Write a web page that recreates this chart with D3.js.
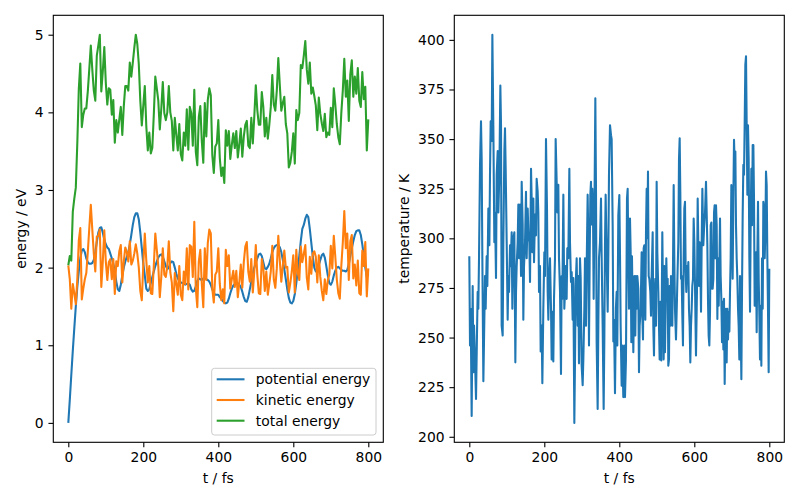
<!DOCTYPE html>
<html><head><meta charset="utf-8">
<script src="https://cdn.jsdelivr.net/npm/d3@7/dist/d3.min.js"></script>
<style>body{margin:0;background:#fff} svg{display:block} text{font-family:"DejaVu Sans",sans-serif}</style>
</head><body><svg id="c" width="800" height="500"></svg>
<script>
// ---- data ----
const timeFs = d3.range(0, 801, 4);
const potential = [
0.00,0.30,0.62,0.93,1.22,1.50,1.75,1.95,2.12,2.22,
2.24,2.20,2.12,2.07,2.05,2.05,2.06,2.10,2.20,2.33,
2.45,2.51,2.52,2.45,2.36,2.30,2.26,2.24,2.18,2.12,
2.05,1.95,1.82,1.72,1.70,1.78,1.90,2.00,2.08,2.14,
2.20,2.30,2.42,2.55,2.65,2.70,2.70,2.62,2.45,2.25,
2.05,1.90,1.73,1.70,1.72,1.80,1.88,1.95,2.02,2.08,
2.13,2.16,2.17,2.14,2.08,2.02,1.98,2.00,2.06,2.08,
2.07,2.00,1.92,1.86,1.83,1.81,1.80,1.79,1.78,1.79,
1.80,1.78,1.72,1.69,1.70,1.76,1.83,1.86,1.85,1.84,
1.86,1.87,1.85,1.84,1.82,1.78,1.72,1.67,1.65,1.65,
1.65,1.62,1.60,1.57,1.55,1.54,1.55,1.60,1.67,1.73,
1.77,1.79,1.80,1.80,1.78,1.75,1.69,1.62,1.57,1.56,
1.62,1.72,1.82,1.92,2.00,2.06,2.12,2.17,2.18,2.15,
2.07,1.99,1.98,2.01,2.05,2.12,2.20,2.25,2.28,2.29,
2.29,2.26,2.20,2.10,1.98,1.85,1.72,1.61,1.55,1.54,
1.57,1.66,1.80,1.97,2.15,2.34,2.50,2.55,2.63,2.68,
2.65,2.50,2.32,2.14,2.00,1.95,1.96,2.03,2.10,2.16,
2.18,2.13,2.02,1.90,1.80,1.78,1.82,1.90,1.96,2.00,
2.01,1.99,1.97,1.96,1.96,1.95,1.97,2.05,2.15,2.25,
2.34,2.42,2.47,2.48,2.48,2.42,2.30,2.15,2.00,1.88,
1.92];
const kinetic = [
2.03,1.85,1.47,1.79,1.67,1.53,1.85,2.35,2.51,1.59,
1.73,1.85,1.93,2.20,2.51,2.81,2.49,2.18,1.95,2.40,
2.41,2.49,1.75,2.08,2.48,2.08,1.84,2.07,2.11,1.85,
2.11,1.66,2.08,2.02,2.21,2.29,1.81,2.08,2.26,2.20,
2.08,2.34,2.04,2.09,2.18,2.30,2.18,2.00,1.70,1.58,
2.04,2.44,2.09,1.81,2.02,1.67,1.66,2.02,2.44,2.23,
2.02,1.62,1.88,2.25,1.91,1.88,2.02,2.34,1.94,1.81,
1.44,1.93,1.79,1.65,2.02,1.65,1.58,1.95,1.79,2.25,
1.72,2.29,2.27,1.88,2.59,1.73,1.49,2.08,2.23,1.79,
1.49,2.25,1.84,2.32,2.49,2.44,1.73,1.55,1.91,1.95,
2.25,1.79,1.58,1.72,1.54,2.23,2.02,2.16,1.73,1.85,
1.96,1.75,1.96,1.62,1.81,2.04,1.74,2.07,2.27,2.33,
1.95,1.82,2.11,1.68,1.95,2.29,1.91,1.67,1.66,2.11,
2.00,1.70,1.95,1.65,1.79,1.95,2.28,1.85,1.74,1.99,
2.41,2.09,1.82,2.02,2.22,2.00,2.01,1.68,1.80,1.95,
2.16,1.68,2.23,1.93,1.84,2.27,2.07,2.18,2.29,1.87,
1.72,2.14,1.92,2.18,2.21,2.14,1.81,2.16,1.88,1.70,
1.58,1.85,1.66,1.84,1.91,2.28,1.99,2.41,2.14,1.85,
1.67,1.60,2.02,2.32,2.73,2.25,2.44,1.84,2.34,2.42,
1.86,2.04,1.77,2.09,1.67,1.65,2.22,2.02,2.33,1.63,
1.99];
const total = [
2.03,2.15,2.09,2.72,2.89,3.03,3.60,4.30,4.63,3.81,
3.97,4.05,4.05,4.27,4.56,4.86,4.55,4.28,4.15,4.73,
4.86,5.00,4.27,4.53,4.84,4.38,4.10,4.31,4.29,3.97,
4.16,3.61,3.90,3.74,3.91,4.07,3.71,4.08,4.34,4.34,
4.28,4.64,4.46,4.64,4.83,5.00,4.88,4.62,4.15,3.83,
4.09,4.34,3.82,3.51,3.74,3.47,3.54,3.97,4.46,4.31,
4.15,3.78,4.05,4.39,3.99,3.90,4.00,4.34,4.00,3.89,
3.51,3.93,3.71,3.51,3.85,3.46,3.38,3.74,3.57,4.04,
3.52,4.07,3.99,3.57,4.29,3.49,3.32,3.94,4.08,3.63,
3.35,4.12,3.69,4.16,4.31,4.22,3.45,3.22,3.56,3.60,
3.90,3.41,3.18,3.29,3.09,3.77,3.57,3.76,3.40,3.58,
3.73,3.54,3.76,3.42,3.59,3.79,3.43,3.69,3.84,3.89,
3.57,3.54,3.93,3.60,3.95,4.35,4.03,3.84,3.84,4.26,
4.07,3.69,3.93,3.66,3.84,4.07,4.48,4.10,4.02,4.28,
4.70,4.35,4.02,4.12,4.20,3.85,3.73,3.29,3.35,3.49,
3.73,3.34,4.03,3.90,3.99,4.61,4.57,4.73,4.92,4.55,
4.37,4.64,4.24,4.32,4.21,4.09,3.77,4.19,3.98,3.86,
3.76,3.98,3.68,3.74,3.71,4.06,3.81,4.31,4.10,3.85,
3.68,3.59,3.99,4.28,4.69,4.20,4.41,3.89,4.49,4.67,
4.20,4.46,4.24,4.57,4.15,4.07,4.52,4.17,4.33,3.51,
3.91];
const tempTime = [0,1.9,3.7,6.3,9,10.8,12.6,15.2,17.9,20.6,22.3,24.1,25.9,28.6,31.2,33,34.8,37.5,39.2,41.9,43.7,46.3,48.1,50.8,53.5,55.2,57,59.7,61.5,64.1,66.8,68.6,71.2,73,75.7,77.5,80.1,82.8,84.6,86.3,89,90.8,93.5,95.2,97,99.7,102.3,104.1,105.9,108.6,110.3,113,114.8,117.5,120.1,122.8,124.6,126.3,129,130.8,132.6,135.2,137.9,139.7,142.3,144.1,145.9,148.6,151.2,153,155.7,157.5,160.1,161.9,164.6,166.3,168.1,170.8,172.6,175.2,177.9,179.6,182.3,184.1,185.9,188.5,190.3,193,194.8,197.4,200.1,201.9,204.5,207.2,209,210.8,212.5,215.2,217.9,219.6,221.4,224.1,225.9,228.5,230.3,233,234.8,237.4,239.2,241.9,244.5,246.3,248.1,250.8,253.4,255.2,257,259.6,261.4,264.1,266.8,268.5,271.2,273,275.6,277.4,280.1,281.9,283.6,286.3,289,290.8,292.5,295.2,297,299.6,302.3,304.1,306.8,308.5,311.2,313,315.6,317.4,319.2,321,322.8,324.5,326.3,328.1,329.9,331.6,333.4,336.1,337.9,339.6,342.3,344.1,345.9,348.5,351.2,353,355.6,358.3,360.1,361.9,363.6,366.3,369,370.8,372.5,375.2,377.9,379.6,382.3,384.1,385.9,388.5,391,393,394.7,397.4,400.1,401.8,403.6,406.3,408,410.7,413.4,415.2,417.8,420.5,422.3,424.1,425.8,428.5,430.3,432.1,433.8,435.6,437.4,440.1,442.7,444.5,446.3,448.1,450.7,452.5,454.3,457,459.6,461.4,463.2,465,466.7,469.4,471.2,473,474.7,476.5,478.3,480.1,482.7,484.5,486.3,489,490.7,492.5,494.3,496.1,497.8,499.6,501.4,504.1,505.8,507.6,509.4,512.1,514.7,516.5,518.3,520.1,521.8,523.6,525.4,527.2,529,530.7,532.5,534.3,536.1,537.8,539.6,541.4,543.2,545,546.7,548.5,551.2,553.8,555.6,557.4,559.2,561,562.7,564.5,566.3,568.1,569.8,571.6,573.4,575.2,577,578.7,580.5,582.3,584.1,585.8,587.6,589.4,591.2,593,594.7,596.5,598.3,600.1,601.9,604.5,607.2,609,610.8,612.6,614.3,616.1,617.9,619.7,621.5,624.1,626,628.6,631.2,633,634.8,636.6,638.3,640.1,641.9,643.7,645.5,647.2,649,650.8,652.6,654.3,656.1,657.9,659.7,661.5,663.2,665,666.8,668.6,670.3,672.1,673.9,675.7,677.5,679.2,681,682.8,684.6,686.3,688.1,689.9,691.7,693.5,695.2,697,698.8,700.6,702.3,704.1,705.9,707.7,709.5,711.2,713,714.8,716.6,718.3,720.1,721.9,723.7,725.5,727.2,729,730.8,732.6,734.3,736.1,737.9,739.7,741.5,743.2,745,746.8,748.6,750.3,752.1,753.9,755.7,757.5,759.2,761,762.8,764.6,766.3,768.1,769.9,771.7,773.5,775.2,777,778.8,780.6,782.4,784.1,785.9,787.7,789.5,791.2,793,794.8,796.6,798.3,800];
const temperature = [291,246,264.5,210.5,276,232.5,256,239,219,253,273,264.5,290,337,359,340,290,228,248,281,264.5,291,276,315,296.5,332,359,349,402.6,357,298,313,280,332,344,313,332,377,357,256,251,298,344,355.5,335,298,259,281,273,296.5,286,303,264.5,300,303,237.5,273,286,298,317,290,317,281,328.5,307,259,286,298,323.5,290,315,303,298,278,335,320,293,320,288,312,301.5,330,323.5,313,273,286,243,256,227,264.5,293,281,350,315,273,259,278,290,264.5,239,263,238,269.5,290,350,328.5,313,327,290,273,231.6,281,269.5,322,264.5,273,286,269.5,295,290,335,298,278,283,259,280,207,239,276,290,256,281,237,290,280,236,226,239,264.5,290,256,286,322,300,246,290,322,328.5,307,325,313,269.5,307,370.6,323.5,247.6,214,256,290,298,320,290,256,214,249,298,322,290,263,293,332,357,352,350,307,248,259,222,265,273,246,311.7,321.8,293,256,225.7,246,220,246,220,239,320,325,290,264.5,310,293,247.6,291,264.5,242.6,281,251,281,264.5,281,274.6,232.5,256,264.5,293,261,249,295,296.5,259,303,325,300,333.6,281,279.6,273,261,281,303,256,241,273,279.6,256,328.5,293,273,256,239,268,238.4,303,273,239,286,242.6,264.5,290,273,279.6,235.8,239,276,256,281,279.6,256,286,326.8,290,264.5,249,269.5,284.7,298,340,350.4,323.5,279.6,281,261,246,290,315,318.4,283,273,286,279.6,288,264.5,256,237.5,256,264.5,276,279.6,310,298,276,241,274.6,320,296.5,276,298,286,263,298,325,296.5,305,313,328.5,313,296.5,268,251,246,263,306.6,308,274.6,274.6,279.6,313,316.7,290,316.7,306.6,259.4,290,266,286,310,281,269.5,247.6,268,244,269.5,226.6,256,264.5,237.5,264.5,249,263,253,273,290,326.8,313,279.6,320,349.6,337,343.7,306.6,290,279.6,264.5,256,239,281,256,229,273,311.7,337,332,357,387.5,391.7,357,322,357,340,290,263,306.6,335,306.6,347,347,320,266,290,293,252.7,290,318.4,279.6,261,239,266,235.8,290,264.5,318.4,315,290,303,333.6,326.8,290,263,232.5,284.7];
const seriesNames = ["potential energy", "kinetic energy", "total energy"];
const seriesColors = ["#1f77b4", "#ff7f0e", "#2ca02c"];
const timeTicks = [0, 200, 400, 600, 800];
const energyTicks = [0, 1, 2, 3, 4, 5];
const tempTicks = [200, 225, 250, 275, 300, 325, 350, 375, 400];

// ---- layout ----
const svg = d3.select("#c");
const FS = 13.89, TICK = 4.86, LW = 2.08;
const axTop = 15.3, axBottom = 442.3;
const panels = [{x0: 53.3, x1: 383.3}, {x0: 454.3, x1: 784.3}];
const padExt = e => { const r = e[1] - e[0]; return [e[0] - 0.05 * r, e[1] + 0.05 * r]; };

function drawAxes(p, xs, ys, yTicks, idx) {
  const g = svg.append("g");
  g.append("rect").attr("x", p.x0).attr("y", axTop).attr("width", p.x1 - p.x0).attr("height", axBottom - axTop).attr("fill", "#fff");
  const gx = g.append("g").attr("transform", `translate(0,${axBottom})`)
    .call(d3.axisBottom(xs).tickValues(timeTicks).tickSize(TICK).tickPadding(4.86).tickFormat(d3.format("d")));
  const gy = g.append("g").attr("transform", `translate(${p.x0},0)`)
    .call(d3.axisLeft(ys).tickValues(yTicks).tickSize(TICK).tickPadding(4.86).tickFormat(d3.format("d")));
  [gx, gy].forEach(a => {
    a.select(".domain").remove();
    a.selectAll("line").attr("stroke", "#000").attr("stroke-width", 1.1);
    a.selectAll("text").attr("font-size", FS).attr("fill", "#000").attr("font-family", "DejaVu Sans");
  });
  svg.append("defs").append("clipPath").attr("id", "clip" + idx)
    .append("rect").attr("x", p.x0).attr("y", axTop).attr("width", p.x1 - p.x0).attr("height", axBottom - axTop);
  return g;
}
function frame(p) {
  svg.append("rect").attr("x", p.x0).attr("y", axTop).attr("width", p.x1 - p.x0).attr("height", axBottom - axTop)
    .attr("fill", "none").attr("stroke", "#000").attr("stroke-width", 1.1);
}

// ---- left panel ----
const pL = panels[0];
const xL = d3.scaleLinear().domain(padExt(d3.extent(timeFs))).range([pL.x0, pL.x1]);
const eAll = potential.concat(kinetic, total);
const yL = d3.scaleLinear().domain(padExt(d3.extent(eAll))).range([axBottom, axTop]);
drawAxes(pL, xL, yL, energyTicks, 0);
const seriesL = [potential, kinetic, total];
const lineL = d3.line().x((d, i) => xL(timeFs[i])).y(d => yL(d));
seriesL.forEach((s, k) => {
  svg.append("path").datum(s).attr("d", lineL).attr("fill", "none")
    .attr("stroke", seriesColors[k]).attr("stroke-width", LW).attr("stroke-linejoin", "round")
    .attr("clip-path", "url(#clip0)");
});
frame(pL);
svg.append("text").attr("x", (pL.x0 + pL.x1) / 2).attr("y", 482.5).attr("text-anchor", "middle")
  .attr("font-size", FS).text("t / fs");
svg.append("text").attr("transform", `translate(26,${(axTop + axBottom) / 2}) rotate(-90)`).attr("text-anchor", "middle")
  .attr("font-size", FS).text("energy / eV");

// legend
const lg = svg.append("g");
lg.append("rect").attr("x", 211.7).attr("y", 368.3).attr("width", 164.3).attr("height", 66.7)
  .attr("rx", 2.8).attr("fill", "#fff").attr("fill-opacity", 0.8).attr("stroke", "#cccccc").attr("stroke-width", 1);
seriesNames.forEach((n, k) => {
  const yy = 379.3 + k * 20.7;
  lg.append("line").attr("x1", 216.7).attr("x2", 244.5).attr("y1", yy).attr("y2", yy)
    .attr("stroke", seriesColors[k]).attr("stroke-width", LW);
  lg.append("text").attr("x", 255.8).attr("y", yy).attr("dy", "0.35em").attr("font-size", FS).text(n);
});

// ---- right panel ----
const pR = panels[1];
const xR = d3.scaleLinear().domain(padExt(d3.extent(tempTime))).range([pR.x0, pR.x1]);
const yR = d3.scaleLinear().domain(padExt(d3.extent(temperature))).range([axBottom, axTop]);
drawAxes(pR, xR, yR, tempTicks, 1);
svg.append("path").datum(temperature)
  .attr("d", d3.line().x((d, i) => xR(tempTime[i])).y(d => yR(d)))
  .attr("fill", "none").attr("stroke", seriesColors[0]).attr("stroke-width", LW).attr("stroke-linejoin", "round")
  .attr("clip-path", "url(#clip1)");
frame(pR);
svg.append("text").attr("x", (pR.x0 + pR.x1) / 2).attr("y", 482.5).attr("text-anchor", "middle")
  .attr("font-size", FS).text("t / fs");
svg.append("text").attr("transform", `translate(409,${(axTop + axBottom) / 2}) rotate(-90)`).attr("text-anchor", "middle")
  .attr("font-size", FS).text("temperature / K");
</script></body></html>
